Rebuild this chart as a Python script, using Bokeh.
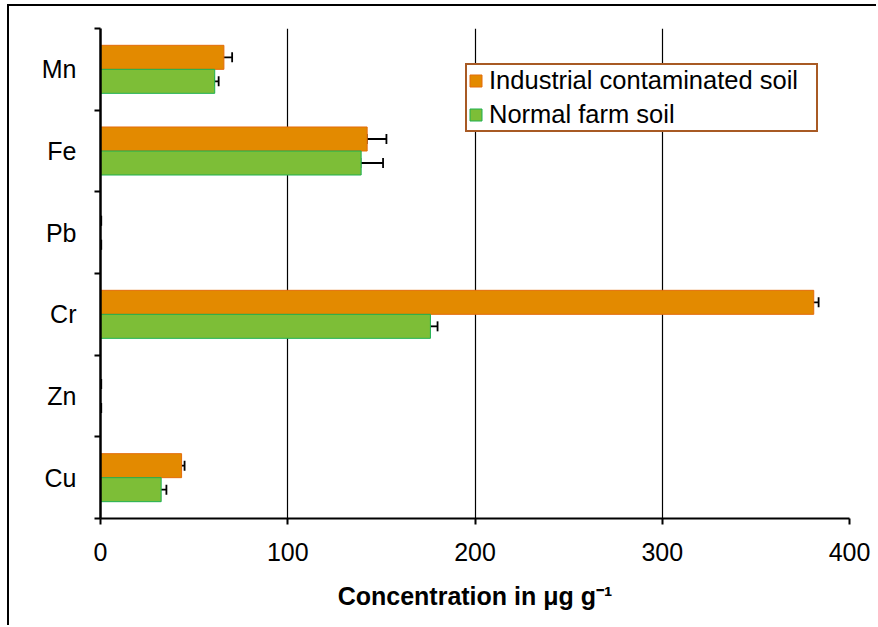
import numpy as np
from bokeh.plotting import figure
from bokeh.models import (ColumnDataSource, Range1d, FixedTicker, Whisker, TeeHead,
                          Legend, LegendItem)
from bokeh.embed import file_html
from bokeh.resources import INLINE

# ---- data (listed top to bottom) ----
metals = ["Mn", "Fe", "Pb", "Cr", "Zn", "Cu"]
industrial = [65.9, 142.4, 0.0, 380.9, 0.0, 43.3]
industrial_err_lo = [1.0, 0.2, 0.0, 2.0, 0.0, 0.6]
industrial_err_hi = [4.4, 10.3, 0.4, 2.6, 0.4, 1.6]
normal = [61.0, 139.2, 0.0, 176.2, 0.0, 32.4]
normal_err_lo = [0.5, 0.4, 0.0, 1.0, 0.0, 1.6]
normal_err_hi = [2.1, 11.7, 0.4, 3.8, 0.4, 2.8]
x_ticks = [0, 100, 200, 300, 400]
series_names = ["Industrial contaminated soil", "Normal farm soil"]
x_label = "Concentration in \u03bcg g\u207b\u00b9"

FONT = "Liberation Sans"
ORANGE, ORANGE_EDGE = "#E38A00", "#E46C0A"
GREEN, GREEN_EDGE = "#7DBE37", "#1FB050"

n = len(metals)
ypos = n - 0.5 - np.arange(n)
bar_h = 0.294
off = bar_h / 2

ind = np.array(industrial)
nor = np.array(normal)
src_i = ColumnDataSource(dict(y=ypos + off, v=ind,
                              lo=ind - np.array(industrial_err_lo),
                              hi=ind + np.array(industrial_err_hi)))
src_n = ColumnDataSource(dict(y=ypos - off, v=nor,
                              lo=nor - np.array(normal_err_lo),
                              hi=nor + np.array(normal_err_hi)))

p = figure(width=869, height=621, x_range=Range1d(0, 400), y_range=Range1d(0, n),
           output_backend="svg", toolbar_location=None,
           min_border_left=91, min_border_right=29, min_border_top=22, min_border_bottom=109)
p.styles = {"margin-left": "7px", "margin-top": "4px",
            "border-left": "2px solid #000", "border-top": "2px solid #000"}
p.outline_line_color = None
p.background_fill_color = "white"
p.border_fill_color = "white"

r_i = p.hbar(y="y", right="v", left=0, height=bar_h, source=src_i,
             fill_color=ORANGE, line_color=ORANGE_EDGE, line_width=1)
r_n = p.hbar(y="y", right="v", left=0, height=bar_h, source=src_n,
             fill_color=GREEN, line_color=GREEN_EDGE, line_width=1)

for src in (src_i, src_n):
    w = Whisker(base="y", lower="lo", upper="hi", source=src, dimension="width",
                line_color="black", line_width=1.8,
                lower_head=TeeHead(size=10, line_width=1.8, line_color="black"),
                upper_head=TeeHead(size=10, line_width=1.8, line_color="black"))
    p.add_layout(w)

# x axis
p.xaxis.ticker = FixedTicker(ticks=x_ticks)
p.xaxis.minor_tick_line_color = None
p.xaxis.major_tick_in = 0
p.xaxis.major_tick_out = 6
p.xaxis.major_tick_line_width = 2
p.xaxis.axis_line_width = 2
p.xaxis.axis_line_color = "black"
p.xaxis.major_label_text_font = FONT
p.xaxis.major_label_text_font_size = "25px"
p.xaxis.major_label_text_color = "black"
p.xaxis.major_label_standoff = 18
p.xaxis.axis_label = x_label
p.xaxis.axis_label_text_font = FONT
p.xaxis.axis_label_text_font_size = "25px"
p.xaxis.axis_label_text_font_style = "bold"
p.xaxis.axis_label_text_color = "black"
p.xaxis.axis_label_standoff = 18

# y axis: labels at centres, ticks at boundaries
p.yaxis.ticker = FixedTicker(ticks=list(ypos), minor_ticks=list(range(n + 1)))
p.yaxis.major_label_overrides = {float(y): m for y, m in zip(ypos, metals)}
p.yaxis.major_tick_in = 0
p.yaxis.major_tick_out = 0
p.yaxis.minor_tick_in = 0
p.yaxis.minor_tick_out = 6
p.yaxis.minor_tick_line_width = 2
p.yaxis.minor_tick_line_color = "black"
p.yaxis.axis_line_width = 2.5
p.yaxis.axis_line_color = "black"
p.yaxis.major_label_text_font = FONT
p.yaxis.major_label_text_font_size = "25px"
p.yaxis.major_label_text_color = "black"
p.yaxis.major_label_standoff = 18

p.xgrid.ticker = FixedTicker(ticks=x_ticks)
p.xgrid.grid_line_color = "black"
p.xgrid.grid_line_width = 1.2
p.ygrid.grid_line_color = None

legend = Legend(items=[LegendItem(label=series_names[0], renderers=[r_i]),
                       LegendItem(label=series_names[1], renderers=[r_n])],
                location=(365, 386), orientation="vertical",
                label_text_font=FONT, label_text_font_size="25.5px",
                label_text_color="black", glyph_width=15, glyph_height=15,
                label_standoff=6, label_width=326, padding=1, spacing=5, margin=0,
                border_line_color="#A85A24", border_line_width=2, border_line_alpha=1,
                background_fill_color="white", background_fill_alpha=1)
p.add_layout(legend)

open("out.html", "w").write(file_html(p, INLINE))
